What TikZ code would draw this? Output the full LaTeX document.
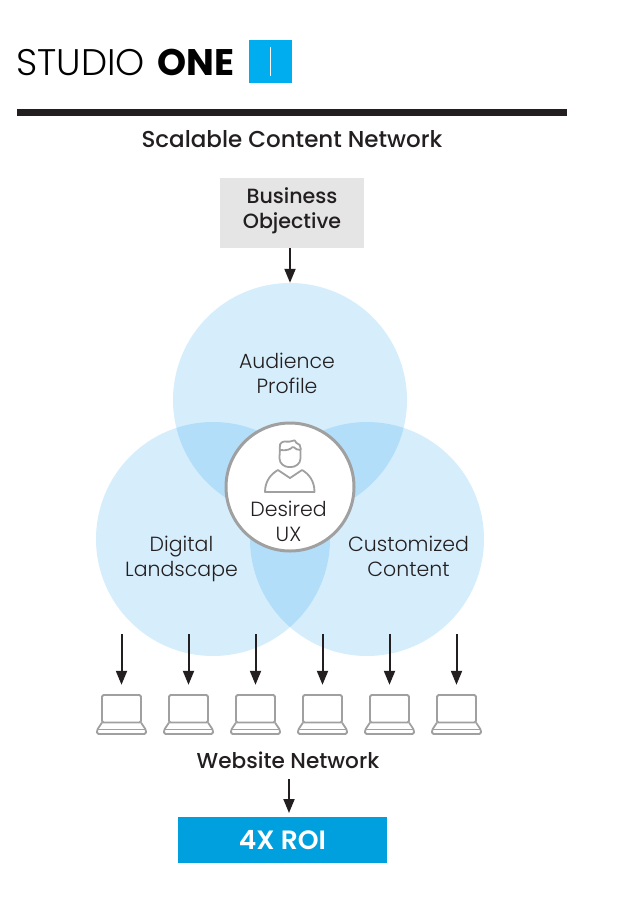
\documentclass[tikz,border=0pt]{standalone}
\usepackage{fontspec}
\setmainfont{Poppins}
\newfontfamily\lightfont{Poppins Light}
\newfontfamily\mediumfont{Poppins Medium}
\newfontfamily\semifont{Poppins SemiBold}
\usetikzlibrary{arrows.meta}
\definecolor{ink}{HTML}{231F20}
\definecolor{venn}{HTML}{D6EEFC}
\definecolor{iconGrey}{HTML}{A0A0A0}
\definecolor{logoBlue}{HTML}{00AEEF}
\definecolor{roiBlue}{HTML}{00A0DF}
\tikzset{
	txt/.style={text=ink, align=center, inner sep=0pt, font=\lightfont\fontsize{20.5}{25}\selectfont},
	head/.style={text=ink, align=center, inner sep=0pt, font=\mediumfont\fontsize{20.6}{25}\selectfont},
	vennCircle/.style={circle, minimum size=234pt, inner sep=0pt, fill=venn, blend mode=multiply},
	flow/.style={draw=ink, line width=2pt, -{Triangle[length=14pt,width=11pt]}},
	icon/.style={draw=iconGrey, line width=1.8pt, line join=round, rounded corners=1.5pt},
	laptop/.style={minimum width=49pt, minimum height=39pt, inner sep=0pt}
}
\tikzset{
	lapicon/.pic={
		\draw[icon] (-19.5,8) rectangle (19.5,-19.5);
		\draw[icon] (-19.5,8) -- (-24.5,15.5) -- (-24.5,19.5) -- (24.5,19.5) -- (24.5,15.5) -- (19.5,8);
		\draw[icon] (-24.5,15) -- (24.5,15);
	}
}
\begin{document}
\begin{tikzpicture}[x=1pt,y=-1pt]
	\useasboundingbox (0,0) rectangle (617,921);
	% logo
	\node[anchor=west, inner sep=0pt, text=black, font=\fontsize{37}{40}\selectfont] (logo) at (16,62)
		{{\lightfont STUDIO}\hspace{3pt} \textbf{ONE}};
	\node[fill=logoBlue, minimum size=43pt, inner sep=0pt] (mark) at (270.5,61.5) {};
	\draw[white, line width=1.5pt] (mark.center) ++(0,-15) -- ++(0,29);
	\fill[ink] (17,109) rectangle (567,116);
	\node[head, font=\mediumfont\fontsize{23}{25}\selectfont] (title) at (292,139) {Scalable Content Network};
	% objective
	\node[fill=black!10, minimum width=144pt, minimum height=70pt, inner sep=0pt] (objbox) at (292,213) {};
	\node[head] (objective) at (292,211) {Business\\Objective};
	% venn
	\node[vennCircle] (audience) at (290,400) {};
	\node[vennCircle] (digital) at (213,539) {};
	\node[vennCircle] (custom) at (367,539) {};
	\node[txt] (audiencetxt) at (287,373) {Audience\\Profile};
	\node[txt] (digitaltxt) at (181.5,559) {Digital\\Landscape};
	\node[txt] (customtxt) at (408.5,556) {Customized\\Content};
	\node[circle, draw=iconGrey, line width=3pt, fill=white, minimum size=128pt, inner sep=0pt] (ux) at (290,487) {};
	\node[txt] (uxtxt) at (288.5,521) {Desired\\UX};
	% person
	\draw[icon] (280,449) .. controls (279,442) and (284,441) .. (288,442) -- (296,440) -- (295,443)
		.. controls (299,443) and (301,446) .. (300.5,450) -- (300.5,457)
		.. controls (300.5,464) and (295,467) .. (290,467) .. controls (285,467) and (279.5,464) .. (279.5,457) -- cycle;
	\draw[icon] (280,450) .. controls (287,451) and (291,449) .. (293,446) .. controls (295,449) and (298,450) .. (300.5,450);
	\draw[icon, rounded corners=0pt] (265,492) .. controls (265,481) and (271,474) .. (278,470) -- (290,478) -- (302,470)
		.. controls (309,474) and (314.5,481) .. (314.5,492) -- cycle;
	% arrows in
	\coordinate (objout) at (290,248);
	\draw[flow] (objout) -- (audience.north);
	% laptops
	\foreach \i/\xx in {1/121.5,2/188.5,3/255.5,4/322.5,5/389.5,6/456.5}{
		\node[laptop] (lap\i) at (\xx,714.5) {};
		\pic at (lap\i) {lapicon};
		\coordinate (drop\i) at (\xx,634);
		\draw[flow] (drop\i) -- ([yshift=10pt]lap\i.north);
	}
	% result
	\node[head, font=\mediumfont\fontsize{21.6}{25}\selectfont] (network) at (288,760) {Website Network};
	\node[fill=roiBlue, text=white, minimum width=209pt, minimum height=46pt, inner sep=0pt, font=\semifont\fontsize{26.5}{25}\selectfont] (roi) at (282.5,840) {\raisebox{1pt}{4X ROI}};
	\coordinate (roiin) at (289,779);
	\coordinate (roitop) at (289,813);
	\draw[flow] (roiin) -- (roitop);
\end{tikzpicture}
\end{document}
